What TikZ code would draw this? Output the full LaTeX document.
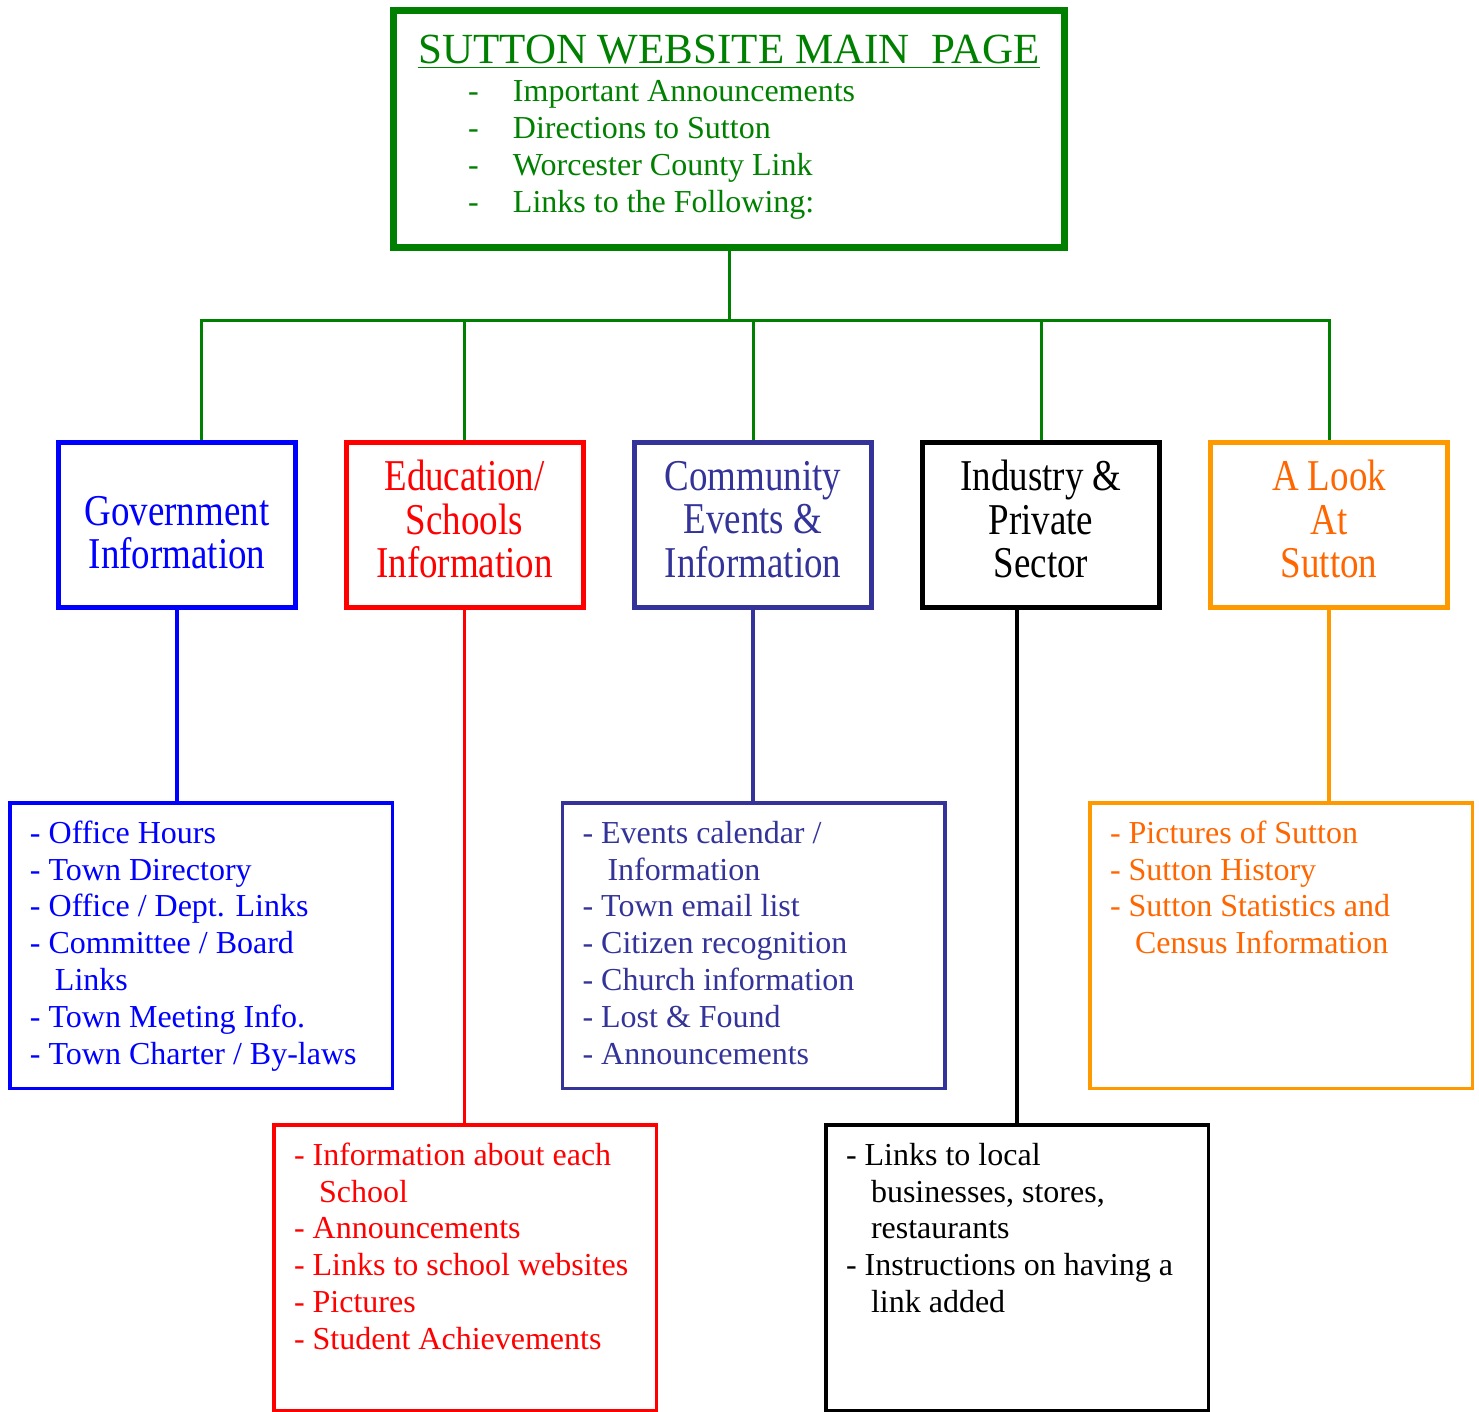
\documentclass[tikz,border=0pt]{standalone}
\usepackage{xcolor}
\usepackage{fontspec}
\setmainfont{Liberation Serif}
\newfontfamily\headfont[FakeStretch=0.84]{Liberation Serif}
\usepackage{tikz}

\definecolor{webgreen}{HTML}{008000}
\definecolor{commblue}{HTML}{333399}
\definecolor{lookorange}{HTML}{FF9900}
\definecolor{looktext}{HTML}{FF6600}

\newcommand{\listbody}[1]{\begin{minipage}[c][142pt][t]{171pt}%
  \fontsize{16}{18.4}\selectfont\lineskiplimit=-20pt
  \vspace*{7pt}\strut #1\end{minipage}}
\newcommand{\contline}{\hspace*{12.5pt}}
\newcommand{\topitem}[1]{\hspace*{29.5pt}\makebox[22.5pt][l]{-}#1}
\newcommand{\lowpad}{\rule[-6pt]{0pt}{6pt}}
\newcommand{\highpad}{\rule{0pt}{22pt}}

\begin{document}
\begin{tikzpicture}[x=0.5pt, y=-0.5pt,
    headbox/.style={draw, line width=2.5pt, minimum width=118.5pt,
      minimum height=82.5pt, inner sep=0pt, align=center,
      font=\headfont\fontsize{22}{21.75}\selectfont},
    listbox/.style={draw, line width=1.75pt, minimum width=191.25pt,
      minimum height=142.75pt, inner sep=0pt},
    trunk/.style={draw=webgreen, line width=1.5pt},
    link/.style={line width=1.75pt}]
  \useasboundingbox (0,0) rectangle (1479,1412);

  % main page
  \node[draw=webgreen, line width=3.5pt, minimum width=335.5pt,
    minimum height=118.5pt, inner sep=0pt, text=webgreen] (top) at (729,129)
    {\begin{minipage}[c][118pt][t]{320pt}
      {\centering\fontsize{21.5}{24}\selectfont\vspace*{9.5pt}%
        \strut\underline{SUTTON WEBSITE MAIN\ \ PAGE}\par}
      \fontsize{16}{18.5}\selectfont\lineskiplimit=-20pt
      \vspace*{0.5pt}
      \topitem{Important Announcements}\\
      \topitem{Directions to Sutton}\\
      \topitem{Worcester County Link}\\
      \topitem{Links to the Following:}
    \end{minipage}};

  % sections
  \node[headbox, draw=blue, text=blue] (gov) at (177,525)
    {\highpad Government\\Information};
  \node[headbox, draw=red, text=red] (edu) at (464.5,525)
    {Education/\\Schools\\Information\lowpad};
  \node[headbox, draw=commblue, text=commblue] (comm) at (753,525)
    {Community\\Events \&\\Information\lowpad};
  \node[headbox, draw=black, text=black] (ind) at (1041,525)
    {Industry \&\\Private\\Sector\lowpad};
  \node[headbox, draw=lookorange, text=looktext] (look) at (1329,525)
    {A Look\\At\\Sutton\lowpad};

  % lists
  \node[listbox, draw=blue, text=blue] (govlist) at (201,945.5)
    {\listbody{- Office Hours\\- Town Directory\\- Office / Dept. Links\\
      - Committee / Board\\\contline Links\\- Town Meeting Info.\\
      - Town Charter / By-laws}};
  \node[listbox, draw=red, text=red] (edulist) at (465,1267.5)
    {\listbody{- Information about each\\\contline School\\- Announcements\\
      - Links to school websites\\- Pictures\\- Student Achievements}};
  \node[listbox, draw=commblue, text=commblue] (commlist) at (753.5,945.5)
    {\listbody{- Events calendar /\\\contline Information\\- Town email list\\
      - Citizen recognition\\- Church information\\- Lost \& Found\\
      - Announcements}};
  \node[listbox, draw=black, text=black] (indlist) at (1017,1267.5)
    {\listbody{- Links to local\\\contline businesses, stores,\\
      \contline restaurants\\- Instructions on having a\\\contline link added}};
  \node[listbox, draw=lookorange, text=looktext] (looklist) at (1281,945.5)
    {\listbody{- Pictures of Sutton\\- Sutton History\\
      - Sutton Statistics and\\\contline Census Information}};

  % green tree
  \coordinate (hub) at (729,321);
  \coordinate (bus-gov) at (201,321);
  \coordinate (bus-edu) at (464.5,321);
  \coordinate (bus-comm) at (753,321);
  \coordinate (bus-ind) at (1041,321);
  \coordinate (bus-look) at (1329,321);
  \draw[trunk] (top.south) -- (hub);
  \draw[trunk] (bus-gov |- gov.north) -- (bus-gov) -- (bus-look)
    -- (bus-look |- look.north);
  \draw[trunk] (bus-edu) -- (edu.north);
  \draw[trunk] (bus-comm) -- (comm.north);
  \draw[trunk] (bus-ind) -- (ind.north);

  % down to the lists
  \draw[link, blue] (gov.south) -- (gov.south |- govlist.north);
  \draw[link, red] (edu.south) -- (edu.south |- edulist.north);
  \draw[link, commblue] (comm.south) -- (comm.south |- commlist.north);
  \draw[link, black] (indlist.north |- ind.south) -- (indlist.north);
  \draw[link, lookorange] (look.south) -- (look.south |- looklist.north);
\end{tikzpicture}
\end{document}
